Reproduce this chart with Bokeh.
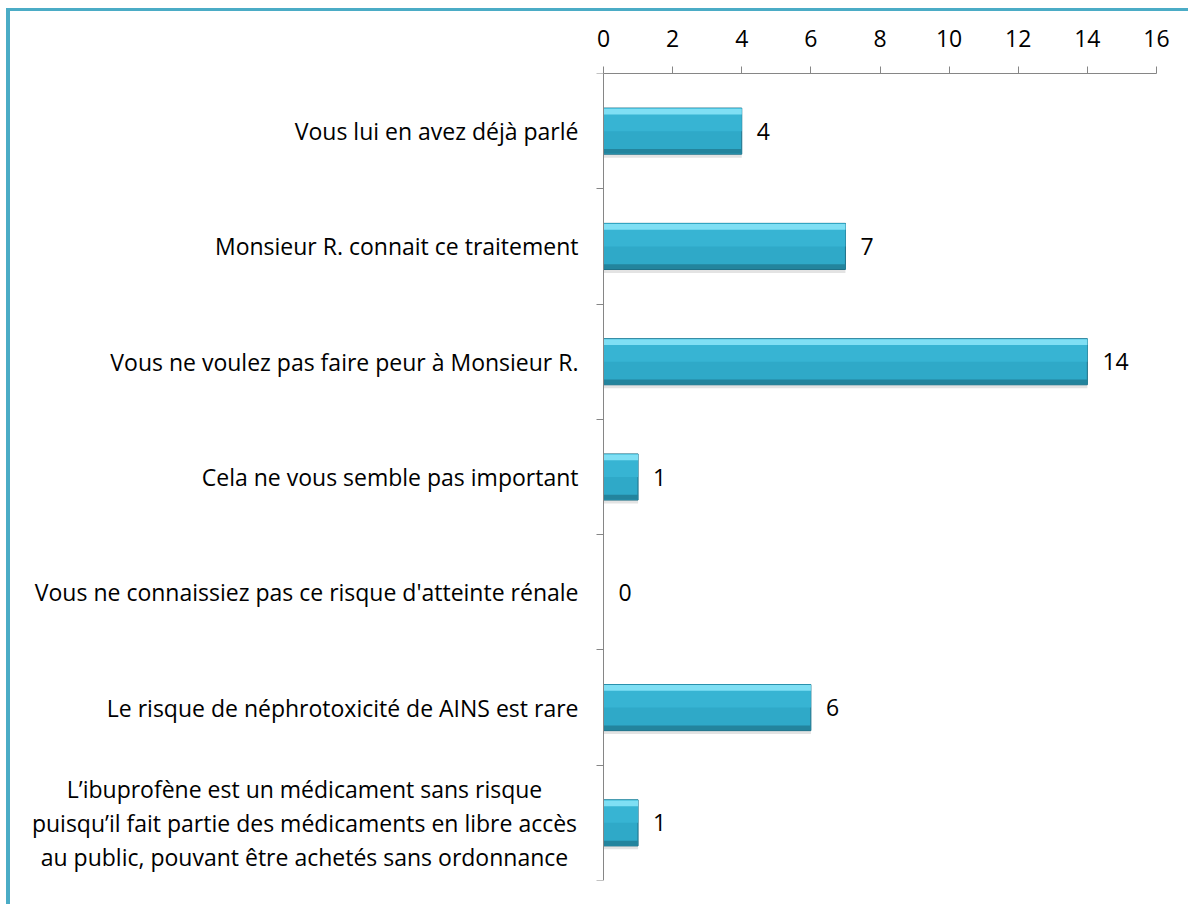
from bokeh.plotting import figure
from bokeh.models import Range1d, FixedTicker, Label, ColumnDataSource
from bokeh.core.properties import value
from bokeh.embed import file_html
from bokeh.resources import INLINE

categories = [
    "Vous lui en avez déjà parlé",
    "Monsieur R. connait ce traitement",
    "Vous ne voulez pas faire peur à Monsieur R.",
    "Cela ne vous semble pas important",
    "Vous ne connaissiez pas ce risque d'atteinte rénale",
    "Le risque de néphrotoxicité de AINS est rare",
    "L’ibuprofène est un médicament sans risque\npuisqu’il fait partie des médicaments en libre accès\nau public, pouvant être achetés sans ordonnance",
]
values = [4, 7, 14, 1, 0, 6, 1]
x_ticks = [0, 2, 4, 6, 8, 10, 12, 14, 16]

FONT = "Open Sans"
FS = "23px"
AXIS_COLOR = "#868686"

n = len(categories)
pos = [i + 0.5 for i in range(n)]
bar_h = 0.4

# layout geometry (pixels): value-axis zero sits 593 px right of the frame's left edge
X_MAX = x_ticks[-1]
PX_PER_UNIT = 553 / X_MAX
X_MIN = -593 / PX_PER_UNIT

src = ColumnDataSource(dict(
    y=pos,
    v=values,
    lbl=[str(v) for v in values],
    y_top=[y - bar_h / 2 + 0.03 for y in pos],
    y_upper=[y - bar_h / 4 for y in pos],
    y_bot=[y + bar_h / 2 - 0.025 for y in pos],
    y_shadow=[y + 0.03 for y in pos],
))

p = figure(width=1182, height=896,
           x_range=Range1d(X_MIN, X_MAX), y_range=Range1d(n, 0),
           x_axis_location="above",
           output_backend="svg", toolbar_location=None,
           min_border_left=0, min_border_right=36,
           min_border_top=62, min_border_bottom=27)
p.styles = {"border-top": "3px solid #4BACC6", "border-left": "4px solid #4BACC6",
            "margin-left": "6px", "margin-top": "8px"}

p.outline_line_color = None
p.xgrid.visible = False
p.ygrid.visible = False
p.background_fill_color = "white"
p.border_fill_color = "white"

# bars (shadow, body, upper sheen, top highlight, bottom dark edge)
p.hbar(y="y_shadow", left=0, right="v", height=bar_h, source=src,
       fill_color="#c8c8c8", fill_alpha=0.5, line_color=None)
p.hbar(y="y", left=0, right="v", height=bar_h, source=src,
       fill_color="#2FA9C8", line_color="#1D6F86", line_width=1)
p.hbar(y="y_upper", left=0, right="v", height=bar_h / 2, source=src,
       fill_color="#37B4D3", line_color=None)
p.hbar(y="y_top", left=0, right="v", height=0.05, source=src,
       fill_color="#7FDFF4", line_color=None)
p.hbar(y="y_bot", left=0, right="v", height=0.04, source=src,
       fill_color="#23849D", line_color=None)

# value labels
p.text(x="v", y="y", text="lbl", source=src, x_offset=15,
       text_align="left", text_baseline="middle",
       text_font=value(FONT), text_font_size=FS, text_color="black")

# x axis (top)
xa = p.xaxis[0]
xa.ticker = FixedTicker(ticks=x_ticks)
xa.bounds = (0, X_MAX)
xa.axis_line_color = AXIS_COLOR
xa.major_tick_line_color = AXIS_COLOR
xa.major_tick_out = 7
xa.major_tick_in = 0
xa.minor_tick_line_color = None
xa.major_label_text_font = FONT
xa.major_label_text_font_size = FS
xa.major_label_text_color = "black"
xa.major_label_standoff = 20

# y axis (left, pinned at value 0)
ya = p.yaxis[0]
ya.fixed_location = 0
ya.ticker = FixedTicker(ticks=pos, minor_ticks=list(range(n + 1)))
ya.axis_line_color = AXIS_COLOR
ya.major_tick_line_color = None
ya.major_tick_out = 0
ya.major_tick_in = 0
ya.minor_tick_line_color = AXIS_COLOR
ya.minor_tick_out = 7
ya.minor_tick_in = 0
ya.major_label_text_font = FONT
ya.major_label_text_font_size = FS
ya.major_label_text_color = "black"
ya.major_label_standoff = 18
overrides = {}
for y, c in zip(pos, categories):
    overrides[y] = "" if "\n" in c else c
ya.major_label_overrides = overrides

for y, c in zip(pos, categories):
    if "\n" in c:
        p.add_layout(Label(x=0, y=y, x_offset=-299, text=c,
                           text_align="center", text_baseline="middle",
                           text_font=FONT, text_font_size=FS,
                           text_color="black", text_line_height=1.07))

open("out.html", "w").write(file_html(p, INLINE))
